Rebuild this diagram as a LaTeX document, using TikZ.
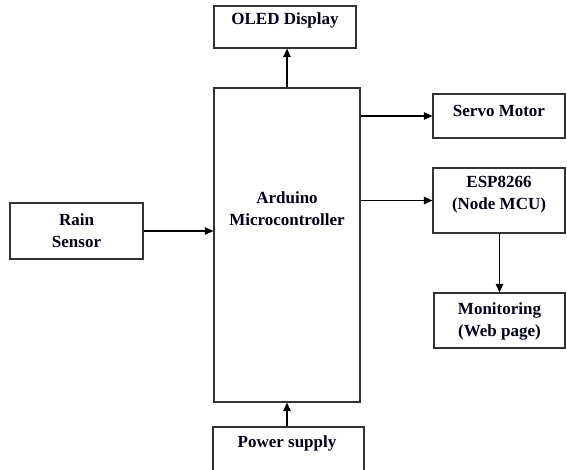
\documentclass[tikz,border=0pt]{standalone}
\usepackage{fontspec}
\setmainfont{Liberation Serif}
\usetikzlibrary{arrows.meta}
\begin{document}
\begin{tikzpicture}[x=1pt,y=-1pt,
  blk/.style={draw=black!80,line width=1.2pt,inner sep=0pt,fill=none},
  txt/.style={font=\fontsize{17}{22}\selectfont\bfseries,align=center,inner sep=0pt,text=black!90!blue},
  arr/.style={line width=1.1pt,-{Triangle[length=8.5pt,width=7.5pt]}}]
\useasboundingbox (0,0) rectangle (567,469);
\clip (0,0) rectangle (567,469);
% boxes
\node[blk,minimum width=142pt,minimum height=42pt] (oled) at (285,27) {};
\node[blk,minimum width=146pt,minimum height=314pt] (mcu) at (287,245) {};
\node[blk,minimum width=133pt,minimum height=56pt] (rain) at (76.5,231) {};
\node[blk,minimum width=132pt,minimum height=44pt] (servo) at (499,116) {};
\node[blk,minimum width=132pt,minimum height=65pt] (esp) at (499,200.5) {};
\node[blk,minimum width=131pt,minimum height=55pt] (mon) at (499.5,320.5) {};
\node[blk,minimum width=151pt,minimum height=60pt] (pow) at (288.5,457) {};
% texts
\node[txt] (toled) at (285,20) {OLED Display};
\node[txt] (tmcu) at (287,208.5) {Arduino\\Microcontroller};
\node[txt] (train) at (76.5,231) {Rain\\Sensor};
\node[txt] (tservo) at (499,111) {Servo Motor};
\node[txt] (tesp) at (499,195) {ESP8266\\(Node MCU)};
\node[txt] (tmon) at (499.5,321) {Monitoring\\(Web page)};
\node[txt] (tpow) at (287,443) {Power supply};
% connectors
\draw[arr] (mcu.north) -- (mcu.north |- oled.south);
\draw[arr] (rain.east) -- (rain.east -| mcu.west);
\draw[arr] (mcu.east |- servo.west) -- (servo.west);
\draw[arr] (mcu.east |- esp.west) -- (esp.west);
\draw[arr] (esp.south -| mon.north) -- (mon.north);
\draw[arr] (pow.north -| mcu.south) -- (mcu.south);
\end{tikzpicture}
\end{document}
